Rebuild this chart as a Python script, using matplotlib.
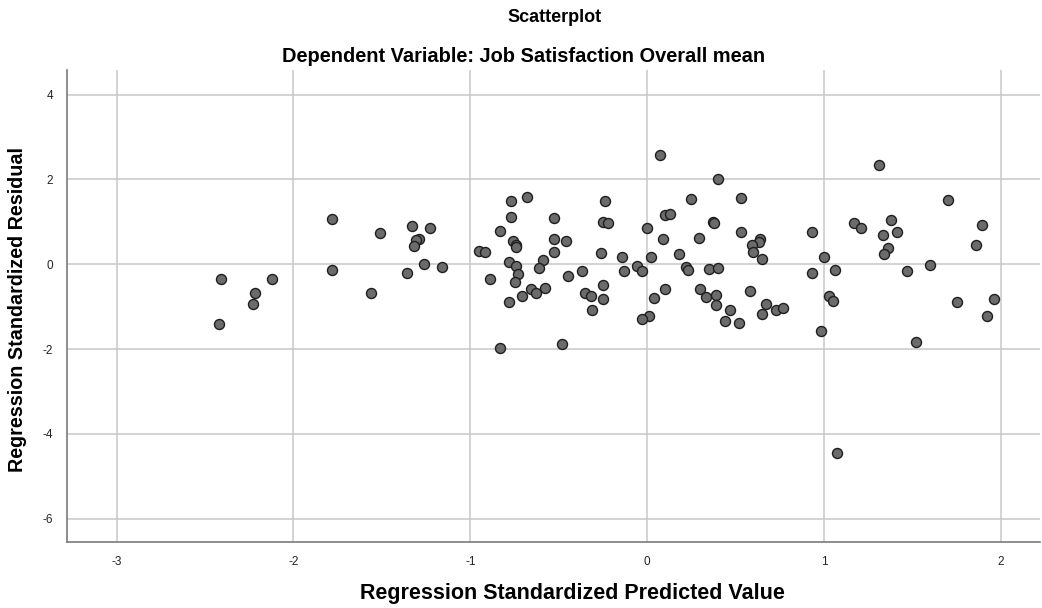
import numpy as np
import matplotlib
matplotlib.use("Agg")
import matplotlib.pyplot as plt

# Valores (predito padronizado, residuo padronizado)
pred = [-2.41, -2.42, -2.22, -2.23, -2.12, -1.78, -1.78, -1.56, -1.51, -1.33,
        -1.23, -1.29, -1.31, -1.32, -1.36, -1.26, -1.16,
        0.07, -0.68, -0.77, -0.24, -0.77, -0.53, -0.25, -0.22, 0.10, 0.13,
        -0.83, 0.00, 0.09, -0.76, -0.74, -0.74, -0.53, -0.46, -0.95, -0.92,
        -0.53, -0.26, -0.14, 0.02, 0.18, -0.78, -0.74, -0.59, -0.61, -0.73,
        -0.89, -0.75, -0.45, -0.37, -0.13, -0.06, -0.03, -0.58, -0.66, -0.63,
        -0.71, -0.78, -0.25, -0.35, -0.32, -0.25, -0.31, 0.10, 0.04, 0.01,
        -0.03, -0.83, -0.48,
        0.40, 0.25, 0.53, 0.37, 0.38, 0.29, 0.53, 0.64, 0.63, 0.59, 0.60,
        0.65, 0.93, 1.00, 0.22, 0.23, 0.35, 0.40, 0.93, 1.06, 0.30, 0.33,
        0.39, 0.39, 0.58, 0.67, 0.65, 0.73, 0.77, 0.47, 0.44, 0.52, 1.03,
        1.05, 0.98, 1.07,
        1.31, 1.70, 1.17, 1.21, 1.38, 1.41, 1.33, 1.36, 1.34, 1.89, 1.86,
        1.60, 1.47, 1.75, 1.96, 1.92, 1.52]
resid = [-0.35, -1.41, -0.68, -0.94, -0.35, 1.06, -0.13, -0.67, 0.73, 0.90,
         0.86, 0.59, 0.56, 0.43, -0.20, 0.01, -0.07,
         2.57, 1.59, 1.49, 1.49, 1.11, 1.09, 1.00, 0.97, 1.15, 1.19,
         0.79, 0.86, 0.59, 0.55, 0.46, 0.41, 0.60, 0.54, 0.32, 0.29,
         0.28, 0.27, 0.17, 0.16, 0.25, 0.06, -0.03, 0.09, -0.08, -0.23,
         -0.34, -0.42, -0.28, -0.17, -0.16, -0.04, -0.17, -0.55, -0.59, -0.69,
         -0.74, -0.89, -0.50, -0.68, -0.76, -0.83, -1.08, -0.59, -0.79, -1.21,
         -1.30, -1.97, -1.87,
         2.02, 1.54, 1.56, 0.99, 0.98, 0.63, 0.75, 0.59, 0.52, 0.45, 0.30,
         0.12, 0.77, 0.16, -0.07, -0.14, -0.12, -0.09, -0.21, -0.13, -0.58, -0.78,
         -0.72, -0.97, -0.63, -0.94, -1.18, -1.08, -1.04, -1.09, -1.33, -1.38, -0.75,
         -0.87, -1.57, -4.46,
         2.35, 1.52, 0.97, 0.86, 1.04, 0.77, 0.68, 0.38, 0.25, 0.93, 0.46,
         -0.02, -0.17, -0.90, -0.82, -1.21, -1.83]

xticks = [-3, -2, -1, 0, 1, 2]
yticks = [-6, -4, -2, 0, 2, 4]

plt.rcParams['font.family'] = ['Liberation Sans', 'DejaVu Sans']
plt.rcParams['axes.unicode_minus'] = False

fig = plt.figure(figsize=(10.42, 6.08), dpi=100)
ax = fig.add_axes([67/1042, 66/608, 973/1042, 472/608])

ax.scatter(pred, resid, s=52, color='#6b6b6b', edgecolors='#1e1e1e',
           linewidths=1.0, zorder=3)

ax.set_xlim(-3.28, 2.22)
ax.set_ylim(-6.55, 4.58)
ax.set_xticks(xticks)
ax.set_yticks(yticks)
ax.tick_params(length=0, labelsize=8.5, colors='#222222', pad=10)
ax.grid(True, color='#c8c8c8', linewidth=1.1, zorder=0)
ax.set_axisbelow(True)

for s in ['top', 'right']:
    ax.spines[s].set_visible(False)
for s in ['left', 'bottom']:
    ax.spines[s].set_color('#7a7a7a')
    ax.spines[s].set_linewidth(1.2)

# Titulos e rotulos
fig.text(555/1042, 1 - 18/608, 'Scatterplot', ha='center', va='center',
         fontsize=13, fontweight='bold')
fig.text(524/1042, 1 - 57/608, 'Dependent Variable: Job Satisfaction Overall mean',
         ha='center', va='center', fontsize=14.4, fontweight='bold')
fig.text(572/1042, 1 - 593/608, 'Regression Standardized Predicted Value',
         ha='center', va='center', fontsize=15.5, fontweight='bold')
fig.text(18/1042, 1 - 310/608, 'Regression Standardized Residual',
         ha='center', va='center', rotation=90, fontsize=14.2, fontweight='bold')

plt.savefig('out.png', dpi=100)
